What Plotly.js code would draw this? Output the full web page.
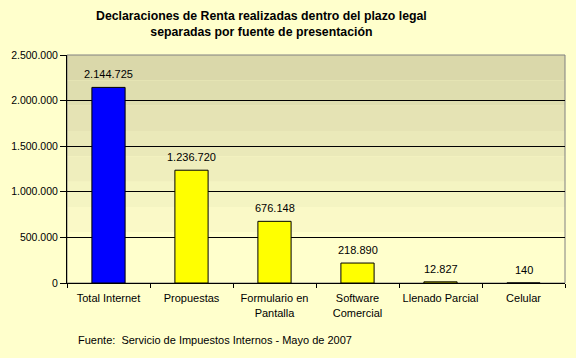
<!DOCTYPE html>
<html><head><meta charset="utf-8">
<script src="https://cdn.plot.ly/plotly-3.0.1.min.js"></script>
<style>html,body{margin:0;padding:0;background:#FFFFCC;}</style>
</head><body>
<div id="chart" style="width:576px;height:358px;"></div>
<script>
const categories = ["Total Internet", "Propuestas", "Formulario en<br>Pantalla", "Software<br>Comercial", "Llenado Parcial", "Celular"];
const values = [2144725, 1236720, 676148, 218890, 12827, 140];
const barColors = ["#0000FF", "#FFFF00", "#FFFF00", "#FFFF00", "#FFFF00", "#FFFF00"];
const yTicks = [0, 500000, 1000000, 1500000, 2000000, 2500000];

// background gradient bands (styling)
const gradTop = [218, 216, 170], gradBot = [255, 255, 204];
const shapes = [];
const nb = 8;
for (let i = 0; i < nb; i++) {
  const f = i / (nb - 1);
  const c = gradTop.map((t, k) => Math.round(t + (gradBot[k] - t) * f));
  shapes.push({type: "rect", xref: "paper", yref: "paper", x0: 0, x1: 1,
    y0: i === nb - 1 ? 0 : 1 - (i + 1) / (nb + 1), y1: 1 - i / (nb + 1),
    fillcolor: `rgb(${c[0]},${c[1]},${c[2]})`, line: {width: 0}, layer: "below"});
}
shapes.push({type: "rect", xref: "paper", yref: "paper", x0: 0, x1: 1, y0: 0, y1: 1,
  line: {color: "#808080", width: 1}, fillcolor: "rgba(0,0,0,0)", layer: "below"});

const fmt = v => String(v).replace(/\B(?=(\d{3})+(?!\d))/g, ".");

const trace = {
  type: "bar", x: categories, y: values,
  marker: {color: barColors, line: {color: "#000000", width: 1}},
  cliponaxis: false, hoverinfo: "none"
};

const labelAnns = categories.map((c, i) => ({
  x: c, y: values[i], xref: "x", yref: "y", text: fmt(values[i]),
  xanchor: "center", yanchor: "bottom", yshift: 5, showarrow: false,
  font: {family: "Liberation Sans, Arial, sans-serif", size: 11, color: "#000"}
}));

const layout = {
  width: 576, height: 358,
  margin: {l: 67, r: 11, t: 55, b: 75},
  paper_bgcolor: "#FFFFCC", plot_bgcolor: "rgba(0,0,0,0)",
  separators: ",.",
  font: {family: "Liberation Sans, Arial, sans-serif", size: 11, color: "#000"},
  bargap: 0.6,
  xaxis: {
    type: "category", showline: true, linecolor: "#000", linewidth: 1,
    ticks: "outside", tickson: "boundaries", ticklen: 4, tickcolor: "#000",
    tickangle: 0, automargin: false, ticklabelstandoff: 5,
    showgrid: false, tickfont: {size: 11}, fixedrange: true
  },
  yaxis: {
    range: [0, 2500000], tickvals: yTicks, tickformat: ",",
    showline: true, linecolor: "#000", linewidth: 1,
    ticks: "outside", ticklen: 6, tickcolor: "#000",
    showgrid: true, gridcolor: "#000", gridwidth: 1, zeroline: false,
    tickfont: {size: 10.5}, fixedrange: true
  },
  shapes: shapes,
  annotations: labelAnns.concat([{
    text: "<b>Declaraciones de Renta realizadas dentro del plazo legal<br>separadas por fuente de presentación</b>",
    xref: "paper", yref: "paper", x: (261 - 67) / 498, y: (283 - 24) / 228,
    xanchor: "center", yanchor: "middle", showarrow: false,
    font: {family: "Liberation Sans, Arial, sans-serif", size: 12.3, color: "#000"}
  }, {
    text: "Fuente:  Servicio de Impuestos Internos - Mayo de 2007",
    xref: "paper", yref: "paper", x: (76 - 67) / 498, y: -(340 - 283) / 228,
    xanchor: "left", yanchor: "middle", showarrow: false,
    font: {size: 11, color: "#000"}
  }]),
  showlegend: false
};

Plotly.newPlot("chart", [trace], layout, {staticPlot: true});
</script>
</body></html>
